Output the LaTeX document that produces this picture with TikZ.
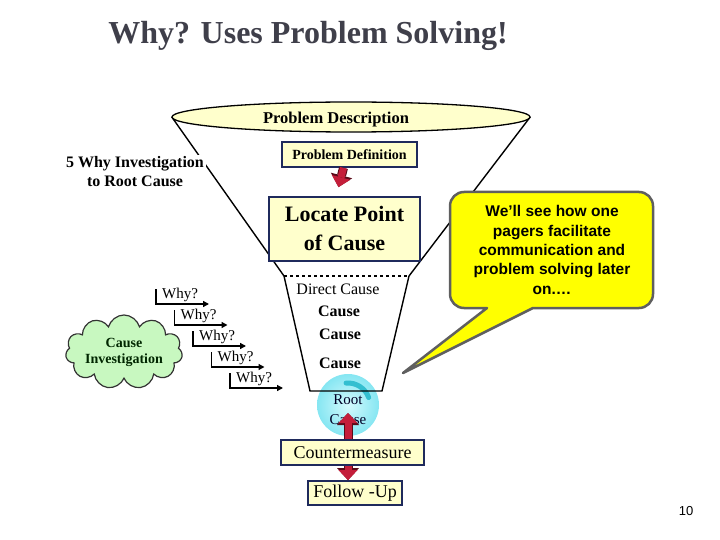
\documentclass[tikz,border=0pt]{standalone}
\usepackage{fontspec}
\setmainfont{Liberation Serif}
\newfontfamily\arialfont{Liberation Sans}
\usetikzlibrary{shapes.geometric,shapes.symbols,arrows.meta,calc}
\definecolor{ltyellow}{HTML}{FFFFCC}
\definecolor{boxnavy}{HTML}{1F2A5C}
\definecolor{arrowred}{HTML}{C41E3A}
\definecolor{arrowdark}{HTML}{5A0A18}
\definecolor{titlegrey}{HTML}{3F3F4A}
\definecolor{sphereout}{HTML}{86E6F2}
\definecolor{spherein}{HTML}{D4FAFD}
\definecolor{crescent}{HTML}{34BFD0}
\definecolor{calloutyellow}{HTML}{FFFF00}
\definecolor{calloutgrey}{HTML}{5F5F5F}
\definecolor{cloudgreen}{HTML}{C8F8C0}
\newcommand{\fsz}[2]{\fontsize{#1}{#2}\selectfont}
\begin{document}
\begin{tikzpicture}[x=1pt,y=-1pt,
  box/.style={draw=boxnavy, fill=ltyellow, line width=1.8pt, inner sep=0pt, align=center},
  funnel/.style={draw=black, line width=1.4pt},
  redarrow/.style={line width=7pt, draw=arrowred,
     -{Triangle[width=19pt,length=10pt,line width=0pt]},
     preaction={draw=arrowdark, line width=9pt, -{Triangle[width=22pt,length=12pt,line width=0pt]}}},
  whyarrow/.style={draw=black, line width=1.3pt, -{Triangle[width=6pt,length=6pt]}},
  whytext/.style={anchor=west, inner sep=0pt, font=\fsz{15}{17}}
]
\useasboundingbox (0,0) rectangle (720,540);

% title
\node[text=titlegrey, font=\fsz{32}{38}\bfseries] (title) at (308,36) {Why? Uses Problem Solving!};

% funnel geometry
\coordinate (tl) at (284,276);
\coordinate (tr) at (409,276);
\coordinate (bl) at (310,391);
\coordinate (br) at (382,391);
\node[ellipse, minimum width=358pt, minimum height=30pt, inner sep=0pt] (pdesc) at (351,117) {};
\draw[funnel] (pdesc.west) -- (tl);
\draw[funnel] (pdesc.east) -- (tr);
\node[ellipse, draw=black, fill=ltyellow, line width=1.3pt, minimum width=358pt, minimum height=30pt, inner sep=0pt] (pdescfill) at (351,117) {};
\node[font=\fsz{16.5}{19}\bfseries] (pdtext) at (336,120) {Problem Description};

% 5 why text (white background hides funnel line)
\node[fill=white, align=center, inner sep=2pt, font=\fsz{16}{19}\bfseries] (five) at (135,172) {5 Why Investigation\\to Root Cause};

% problem definition
\node[box, minimum width=135pt, minimum height=25pt, font=\fsz{14}{16}\bfseries] (pd) at (349.5,154.5) {Problem Definition};
% locate point
\node[box, minimum width=151pt, minimum height=64pt, font=\fsz{22}{29}\bfseries] (lp) at (344.5,229) {Locate Point\\of Cause};
\draw[redarrow] ($(pd.south)+(-6,0)$) -- ($(lp.north)+(-6,-9)$);

% root cause sphere
\node[circle, minimum size=62pt, inner sep=0pt, inner color=spherein, outer color=sphereout] (rc) at (348,405) {};
\draw[crescent, line width=5pt, line cap=round] ($(rc)+(-95:22)$) arc[start angle=-95, end angle=-20, radius=22];

% trapezoid
\draw[funnel, dashed] (tl) -- (tr);
\draw[funnel] (tl) -- (bl) -- (br) -- (tr);

\node[font=\fsz{16}{18}] (dc) at (338,289) {Direct Cause};
\node[font=\fsz{16}{18}\bfseries] (c1) at (339,311) {Cause};
\node[font=\fsz{16}{18}\bfseries] (c2) at (340,334) {Cause};
\node[font=\fsz{16}{18}\bfseries] (c3) at (340,363) {Cause};
\node[align=center, text=black!85!blue, font=\fsz{15}{20}] (rctext) at (348,410) {Root\\Cause};

% countermeasure & follow-up
\node[box, minimum width=143pt, minimum height=25pt, font=\fsz{18}{20}] (cm) at (352.5,452.5) {Countermeasure};
\node[box, minimum width=94pt, minimum height=24pt, font=\fsz{18}{20}] (fu) at (355,493) {Follow -Up};
\draw[redarrow] (cm.north -| rc) -- ($(rc)+(0,8)$);
\draw[redarrow] (cm.south -| rc) -- (fu.north -| rc);

% callout
\draw[draw=calloutgrey, fill=calloutyellow, line width=2.5pt, line join=round]
  (403,373) -- (487,308) [rounded corners=14pt] -- (450,308) -- (450,192) -- (653,192) -- (653,308) [sharp corners] -- (533,308) -- cycle;
\node[align=center, font=\arialfont\fsz{15.5}{19.3}\bfseries] (callout) at (552,250)
  {We’ll see how one\\pagers facilitate\\communication and\\problem solving later\\on.…};

% cloud
\node[cloud, cloud puffs=11, aspect=2.1, draw=black!80, fill=cloudgreen, line width=1.2pt,
  minimum width=112pt, minimum height=56pt, inner sep=0pt, align=center,
  font=\fsz{14}{16}\bfseries, text=black!85!green] (cloud) at (124,352) {Cause\\Investigation};

% why staircase
\foreach \i in {0,...,4} {
  \pgfmathsetmacro{\xv}{156+18.5*\i}
  \pgfmathsetmacro{\yt}{289+21*\i}
  \pgfmathsetmacro{\ya}{304+21*\i}
  \node[whytext] (why\i) at (\xv+6,\yt+6) {Why?};
  \draw[whyarrow] (\xv,\yt) -- (\xv,\ya) -- (\xv+53,\ya);
}

% page number
\node[font=\arialfont\fsz{13}{15}] (pgnum) at (686,511) {10};
\end{tikzpicture}
\end{document}
